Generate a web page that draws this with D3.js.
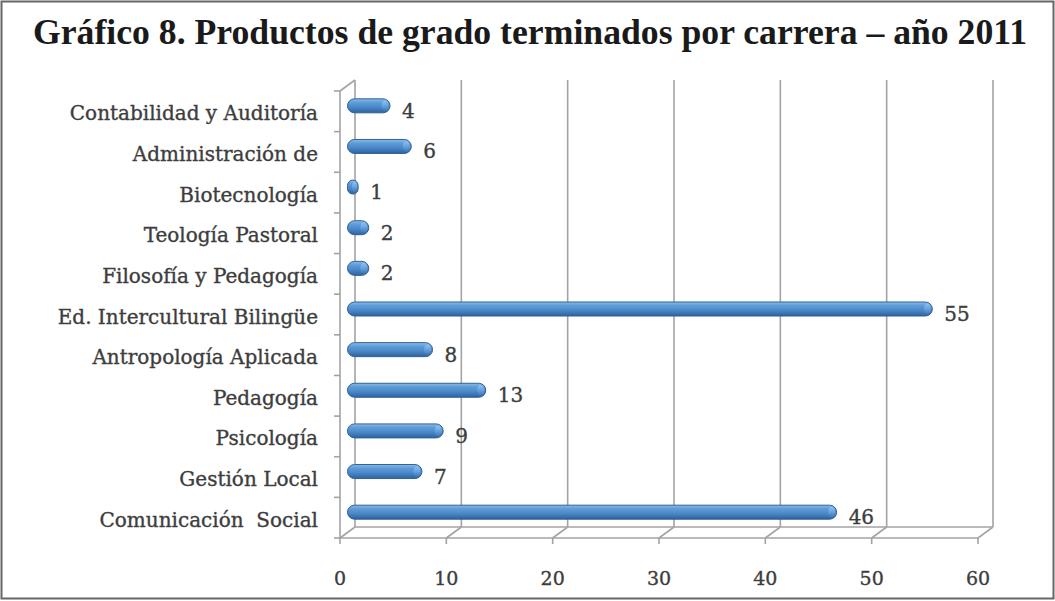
<!DOCTYPE html>
<html><head><meta charset="utf-8">
<script src="https://cdn.jsdelivr.net/npm/d3@7"></script>
<style>body{margin:0;background:#fff}svg{display:block}</style>
</head><body>
<script>
const categories = ["Contabilidad y Auditoría","Administración de","Biotecnología","Teología Pastoral","Filosofía y Pedagogía","Ed. Intercultural Bilingüe","Antropología Aplicada","Pedagogía","Psicología","Gestión Local","Comunicación  Social"];
const values = [4,6,1,2,2,55,8,13,9,7,46];
const xTicks = [0,10,20,30,40,50,60];
const title = "Gráfico 8. Productos de grado terminados por carrera – año 2011";

const W=1055,H=601;
const svg=d3.select("body").append("svg").attr("width",W).attr("height",H);
svg.append("rect").attr("x",1.5).attr("y",1.5).attr("width",W-3).attr("height",H-4).attr("fill","#fff").attr("stroke","#666").attr("stroke-width",2);

const defs=svg.append("defs");
const g1=defs.append("linearGradient").attr("id","cyl").attr("x1",0).attr("y1",0).attr("x2",0).attr("y2",1);
[[0,"#8dbbe6"],[0.25,"#5f9dd9"],[0.6,"#4a87c8"],[1,"#2e629c"]].forEach(s=>g1.append("stop").attr("offset",s[0]).attr("stop-color",s[1]));
const g2=defs.append("linearGradient").attr("id","cap").attr("x1",0).attr("y1",0).attr("x2",0).attr("y2",1);
[[0,"#9cc6ee"],[0.5,"#6aa5e0"],[1,"#3a74b5"]].forEach(s=>g2.append("stop").attr("offset",s[0]).attr("stop-color",s[1]));

const x0=340,x1=978,yTop=91,yBot=538,dx=15,dy=-11;
const x=d3.scaleLinear().domain([0,60]).range([x0,x1]);
const y=d3.scaleBand().domain(categories).range([yTop,yBot]);
const grid="#a3a3a3";

const g=svg.append("g");
g.selectAll(".gl").data(xTicks).join("line")
 .attr("x1",d=>x(d)+dx).attr("x2",d=>x(d)+dx).attr("y1",yTop+dy).attr("y2",yBot+dy)
 .attr("stroke",grid).attr("stroke-width",1.6);
g.append("line").attr("x1",x0+dx).attr("x2",x1+dx).attr("y1",yBot+dy).attr("y2",yBot+dy).attr("stroke",grid).attr("stroke-width",1.6);
g.selectAll(".fd").data(xTicks).join("line")
 .attr("x1",d=>x(d)).attr("x2",d=>x(d)+dx).attr("y1",yBot).attr("y2",yBot+dy)
 .attr("stroke",grid).attr("stroke-width",1.6);
g.append("line").attr("x1",x0).attr("x2",x1).attr("y1",yBot).attr("y2",yBot).attr("stroke",grid).attr("stroke-width",1.6);
g.append("line").attr("x1",x0).attr("x2",x0).attr("y1",yTop).attr("y2",yBot).attr("stroke",grid).attr("stroke-width",1.6);
g.append("line").attr("x1",x0).attr("x2",x0+dx).attr("y1",yTop).attr("y2",yTop+dy).attr("stroke",grid).attr("stroke-width",1.6);
const bounds=categories.map(c=>y(c)).concat([yBot]);
g.selectAll(".ct").data(bounds).join("line")
 .attr("x1",x0-6).attr("x2",x0).attr("y1",d=>d).attr("y2",d=>d).attr("stroke",grid).attr("stroke-width",1.6);
g.selectAll(".bt").data(xTicks).join("line")
 .attr("x1",d=>x(d)).attr("x2",d=>x(d)).attr("y1",yBot).attr("y2",yBot+6).attr("stroke",grid).attr("stroke-width",1.6);

const bh=14;
const mx=dx/2, my=dy/2;
const txt="#3d3d3d";
const bars=g.selectAll(".bar").data(categories).join("g");
bars.each(function(c,i){
  const v=values[i];
  const cy=y(c)+y.bandwidth()/2+my;
  const xs=x(0)+mx, xe=x(v)+mx;
  const gg=d3.select(this);
  const w=Math.max(xe-xs,bh*0.6);
  gg.append("rect").attr("x",xe-w).attr("y",cy-bh/2).attr("width",w).attr("height",bh)
    .attr("rx",Math.min(bh/2,w/2)).attr("fill","url(#cyl)").attr("stroke","#2f609a").attr("stroke-width",1);
  gg.append("ellipse").attr("cx",xe-Math.min(5,w/3)).attr("cy",cy).attr("rx",Math.min(3.5,w/4)).attr("ry",bh/2-1.5)
    .attr("fill","url(#cap)").attr("opacity",0.85);
  gg.append("text").attr("x",xe+12).attr("y",cy+5).attr("dy","0.35em")
    .attr("font-family","DejaVu Serif").attr("font-size",20).attr("fill",txt)
    .attr("stroke",txt).attr("stroke-width",0.35).text(v);
});

g.selectAll(".cl").data(categories).join("text")
 .attr("x",318).attr("y",d=>y(d)+y.bandwidth()/2+2).attr("dy","0.35em").attr("text-anchor","end")
 .attr("font-family","DejaVu Serif").attr("font-size",20).attr("fill",txt)
 .attr("stroke",txt).attr("stroke-width",0.35)
 .style("white-space","pre").attr("xml:space","preserve").text(d=>d);

g.selectAll(".xl").data(xTicks).join("text")
 .attr("x",d=>x(d)).attr("y",578).attr("dy","0.35em").attr("text-anchor","middle")
 .attr("font-family","DejaVu Serif").attr("font-size",19).attr("fill",txt)
 .attr("stroke",txt).attr("stroke-width",0.35).text(d=>d);

svg.append("text").attr("x",33).attr("y",44).attr("font-family","Liberation Serif").attr("font-weight","bold")
 .attr("font-size",35).attr("fill","#1a1a1a").attr("textLength",994).attr("lengthAdjust","spacingAndGlyphs").text(title);
</script>
</body></html>
